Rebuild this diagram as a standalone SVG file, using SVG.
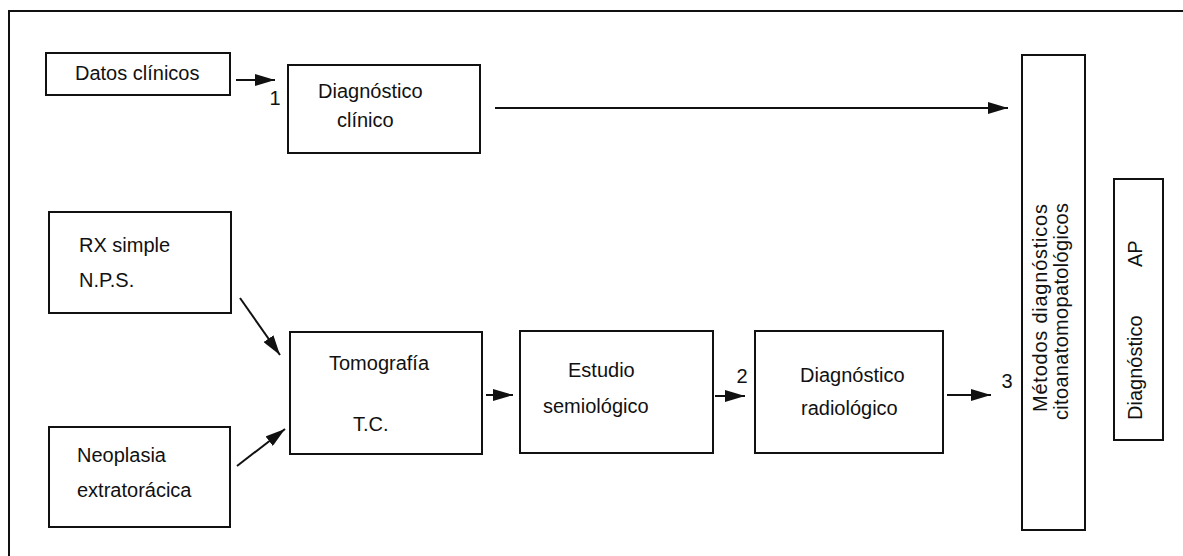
<svg xmlns="http://www.w3.org/2000/svg" width="1183" height="556" viewBox="0 0 1183 556">
<style>
.box{fill:#fff;stroke:#111;stroke-width:2}
.t{font-family:"Liberation Sans",Arial,sans-serif;font-size:20px;fill:#111}
.c{stroke:#111;stroke-width:2;fill:none}
.frame{stroke:#111;stroke-width:2;fill:none}
</style>
<defs>
<marker id="ah" viewBox="0 0 20 12" refX="20" refY="6" markerWidth="20" markerHeight="12" markerUnits="userSpaceOnUse" orient="auto">
<path d="M0,0 L20,6 L0,12 z" fill="#111"/>
</marker>
</defs>
<rect width="1183" height="556" fill="#fff"/>
<path class="frame" d="M9,556 V11 H1183"/>

<g id="datos">
<rect class="box" x="46" y="53" width="184" height="42"/>
<text class="t" x="75" y="80">Datos clínicos</text>
</g>
<g id="diag-clinico">
<rect class="box" x="288" y="65" width="192" height="88"/>
<text class="t" x="318" y="98">Diagnóstico</text>
<text class="t" x="337" y="127">clínico</text>
</g>
<g id="rx">
<rect class="box" x="49" y="212" width="182" height="101"/>
<text class="t" x="79" y="252">RX simple</text>
<text class="t" x="79" y="287">N.P.S.</text>
</g>
<g id="neoplasia">
<rect class="box" x="49" y="427" width="181" height="100"/>
<text class="t" x="77" y="462">Neoplasia</text>
<text class="t" x="77" y="497">extratorácica</text>
</g>
<g id="tomografia">
<rect class="box" x="290" y="332" width="192" height="122"/>
<text class="t" x="329" y="370">Tomografía</text>
<text class="t" x="353" y="431">T.C.</text>
</g>
<g id="estudio">
<rect class="box" x="520" y="331" width="193" height="122"/>
<text class="t" x="568" y="377">Estudio</text>
<text class="t" x="543" y="413">semiológico</text>
</g>
<g id="diag-radiologico">
<rect class="box" x="755" y="331" width="188" height="122"/>
<text class="t" x="800" y="382">Diagnóstico</text>
<text class="t" x="801" y="415">radiológico</text>
</g>
<g id="metodos">
<rect class="box" x="1022" y="55" width="63" height="475"/>
<text class="t" transform="translate(1047,412) rotate(-90)" textLength="208" lengthAdjust="spacing">Métodos diagnósticos</text>
<text class="t" transform="translate(1068,420) rotate(-90)" textLength="217" lengthAdjust="spacing">citoanatomopatológicos</text>
</g>
<g id="diag-ap">
<rect class="box" x="1114" y="179" width="49" height="261"/>
<text class="t" transform="translate(1142,420) rotate(-90)">Diagnóstico</text>
<text class="t" transform="translate(1142,267) rotate(-90)">AP</text>
</g>

<g id="connectors">
<line class="c" x1="236" y1="80" x2="275" y2="80" marker-end="url(#ah)"/>
<line class="c" x1="495" y1="108" x2="1008" y2="108" marker-end="url(#ah)"/>
<line class="c" x1="240" y1="298" x2="280" y2="355" marker-end="url(#ah)"/>
<line class="c" x1="237" y1="466" x2="285" y2="429" marker-end="url(#ah)"/>
<line class="c" x1="486" y1="395" x2="513" y2="395" marker-end="url(#ah)"/>
<line class="c" x1="715" y1="396" x2="745" y2="396" marker-end="url(#ah)"/>
<line class="c" x1="947" y1="395" x2="991" y2="395" marker-end="url(#ah)"/>
<text class="t" x="275" y="105" text-anchor="middle">1</text>
<text class="t" x="742" y="383" text-anchor="middle">2</text>
<text class="t" x="1007" y="388" text-anchor="middle">3</text>
</g>
</svg>
